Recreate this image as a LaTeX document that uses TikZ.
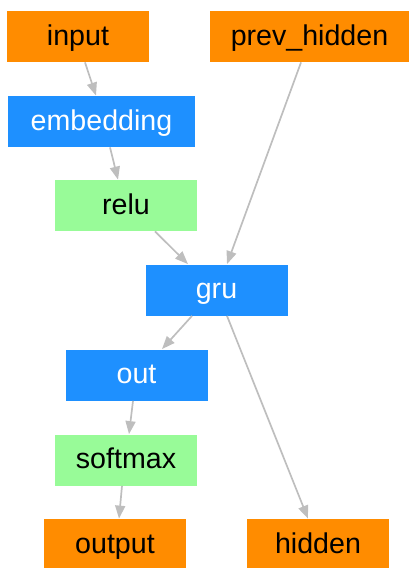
\documentclass[tikz,border=0pt]{standalone}
\usepackage{fontspec}
\setmainfont{Liberation Sans}
\usetikzlibrary{arrows.meta}
\definecolor{ioorange}{HTML}{FF8C00}
\definecolor{layerblue}{HTML}{1E90FF}
\definecolor{actgreen}{HTML}{98FB98}
\definecolor{linkgray}{HTML}{BEBEBE}

\begin{document}
\begin{tikzpicture}[
    x=0.5pt, y=-0.5pt,
    box/.style={rectangle, minimum width=71pt, minimum height=25.5pt, inner sep=0pt,
        text height=10.5pt, text depth=2pt, font=\fontsize{14.3}{17}\selectfont},
    io/.style={box, fill=ioorange, text=black},
    lin/.style={box, fill=layerblue, text=white},
    act/.style={box, fill=actgreen, text=black},
    link/.style={draw=linkgray, line width=0.85pt, -{Triangle[length=6.5pt, width=5pt, fill=linkgray]}}
]
\useasboundingbox (0,0) rectangle (408,568);

% ---- nodes ----
\node[io] (input) at (78,36.5) {input};
\node[io, minimum width=99.5pt] (prev) at (309.5,36.5) {prev\_hidden};
\node[lin, minimum width=93.5pt] (embed) at (101.5,121.5) {embedding};
\node[act] (relu) at (126,205.5) {relu};
\node[lin] (gru) at (216.5,290) {gru};
\node[lin] (out) at (136.5,375) {out};
\node[act] (softmax) at (126,460) {softmax};
\node[io] (output) at (115,544.5) {output};
\node[io] (hidden) at (318,544.5) {hidden};

% ---- edges ----
\draw[link] ([xshift=3.5pt]input.south) -- ([xshift=-2.75pt]embed.north);
\draw[link] ([xshift=4.25pt]embed.south) -- ([xshift=-4pt]relu.north);
\draw[link] ([xshift=14.5pt]relu.south) -- ([xshift=-14.25pt]gru.north);
\draw[link] ([xshift=-4.25pt]prev.south) -- ([xshift=5.25pt]gru.north);
\draw[link] ([xshift=-12.25pt]gru.south) -- ([xshift=12.75pt]out.north);
\draw[link] ([xshift=5.25pt]gru.south) -- ([xshift=-5pt]hidden.north);
\draw[link] ([xshift=-1.75pt]out.south) -- ([xshift=1.5pt]softmax.north);
\draw[link] ([xshift=-2pt]softmax.south) -- ([xshift=2pt]output.north);

\end{tikzpicture}
\end{document}
